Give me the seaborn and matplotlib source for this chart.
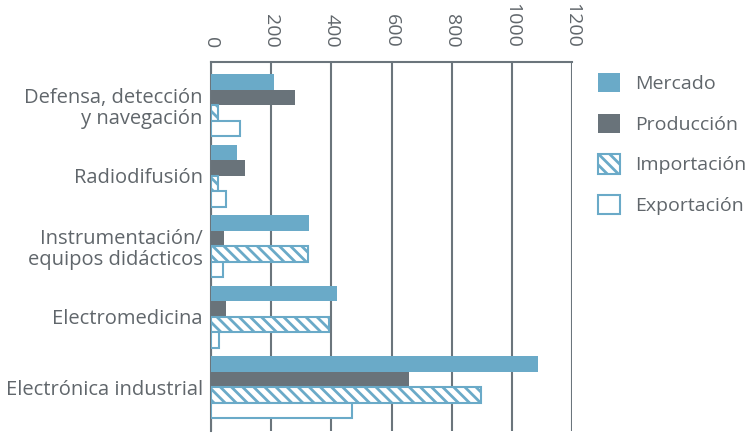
import pandas as pd
import seaborn as sns
import matplotlib.pyplot as plt
from matplotlib.patches import Patch

categorias = ["Defensa, detección\ny navegación", "Radiodifusión",
              "Instrumentación/\nequipos didácticos", "Electromedicina",
              "Electrónica industrial"]
series = ["Mercado", "Producción", "Importación", "Exportación"]
mercado = [210, 86, 327, 418, 1087]
produccion = [280, 113, 43, 50, 658]
importacion = [23, 22, 322, 393, 898]
exportacion = [96, 50, 39, 27, 468]
x_ticks = [0, 200, 400, 600, 800, 1000, 1200]

azul = "#6aaac8"
gris = "#69737a"
texto = "#60666b"

df = pd.DataFrame({
    "categoria": categorias * 4,
    "serie": [s for s in series for _ in categorias],
    "valor": mercado + produccion + importacion + exportacion,
})

sns.set_style("white")
plt.rcParams["font.family"] = ["Open Sans", "DejaVu Sans"]
plt.rcParams["hatch.linewidth"] = 2.0
rayado = "\\\\\\"

fig = plt.figure(figsize=(7.49, 4.33), dpi=100)
ax = fig.add_axes([0.2817, 0.005, 0.4820, 0.852])

sns.barplot(data=df, y="categoria", x="valor", hue="serie", order=categorias,
            hue_order=series, palette=[azul, gris, "white", "white"],
            orient="h", width=0.88, legend=False, ax=ax, zorder=3,
            saturation=1)

for bar in ax.containers[0]:
    bar.set_linewidth(0)
for bar in ax.containers[1]:
    bar.set_linewidth(0)
for bar in ax.containers[2]:
    bar.set_facecolor("white")
    bar.set_edgecolor(azul)
    bar.set_hatch(rayado)
    bar.set_linewidth(1.5)
for bar in ax.containers[3]:
    bar.set_facecolor("white")
    bar.set_edgecolor(azul)
    bar.set_linewidth(1.5)

ax.set_xlim(0, 1200)
ax.set_ylim(4.5 + 0.117, -0.5 - 0.117)
ax.set_xticks(x_ticks)
ax.xaxis.tick_top()
ax.tick_params(axis="x", length=0, pad=10, labelsize=14, labelcolor=texto,
               labelrotation=-90)
ax.tick_params(axis="y", length=0, pad=6, labelsize=14.5, labelcolor=texto)
for lbl in ax.get_yticklabels():
    lbl.set_horizontalalignment("right")
    lbl.set_multialignment("right")
    lbl.set_linespacing(1.1)
ax.grid(axis="x", color="#6b757c", linewidth=1.5, zorder=0)
ax.set_axisbelow(True)
ax.set_xlabel("")
ax.set_ylabel("")
for side in ["right", "bottom"]:
    ax.spines[side].set_visible(False)
for side in ["top", "left"]:
    ax.spines[side].set_color("#6b757c")
    ax.spines[side].set_linewidth(1.5)

handles = [
    Patch(facecolor=azul, edgecolor=azul, linewidth=0),
    Patch(facecolor=gris, edgecolor=gris, linewidth=0),
    Patch(facecolor="white", edgecolor=azul, hatch=rayado, linewidth=1.5),
    Patch(facecolor="white", edgecolor=azul, linewidth=1.5),
]
leg = fig.legend(handles, series, loc="upper left",
                 bbox_to_anchor=(0.775, 0.872), frameon=False, fontsize=14,
                 handlelength=1.15, handleheight=1.15, labelspacing=1.05,
                 handletextpad=0.75, labelcolor=texto)

fig.savefig("out.png", dpi=100)
